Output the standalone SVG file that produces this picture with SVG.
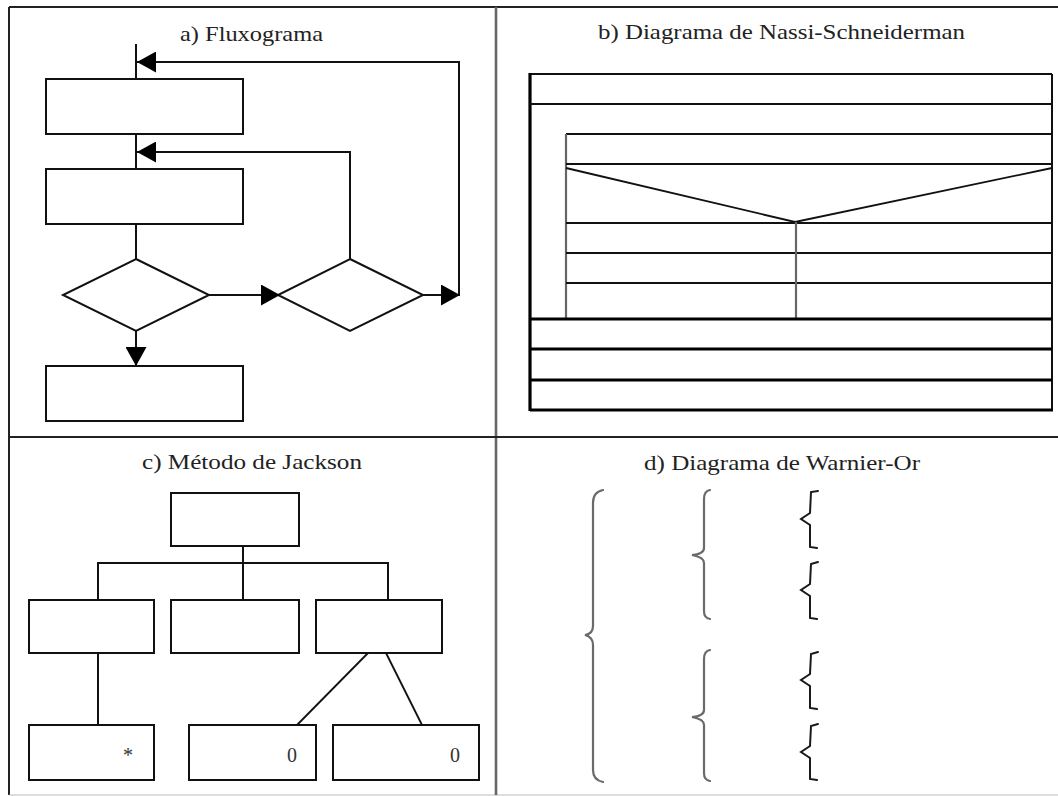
<svg xmlns="http://www.w3.org/2000/svg" width="1058" height="796" viewBox="0 0 1058 796">
<defs>
<style>
.title{font-family:"Liberation Serif","Times New Roman",serif;font-size:21px;fill:#222}
.lbl{font-family:"Liberation Serif","Times New Roman",serif;font-size:20px;fill:#333}
.box{fill:#fff;stroke:#111;stroke-width:2}
.ln{fill:none;stroke:#111;stroke-width:2}
.thin{fill:none;stroke:#111;stroke-width:1.8}
.thick{fill:none;stroke:#000;stroke-width:3.2}
.gray{fill:none;stroke:#666;stroke-width:2.2}
.brace{fill:none;stroke:#6a6a6a;stroke-width:2.2;stroke-linecap:round}
.sbrace{fill:none;stroke:#1a1a1a;stroke-width:2;stroke-linecap:round}
</style>
<marker id="ah" viewBox="0 0 19 21" refX="19" refY="10.5" markerWidth="19" markerHeight="21" markerUnits="userSpaceOnUse" orient="auto">
<path d="M0,0 L19,10.5 L0,21 z" fill="#000"/>
</marker>
</defs>
<rect width="1058" height="796" fill="#fff"/>

<g id="frame">
<line x1="9" y1="7" x2="1058" y2="7" stroke="#222" stroke-width="2"/>
<line x1="9" y1="7" x2="9" y2="795" stroke="#222" stroke-width="2"/>
<line x1="9" y1="795" x2="1058" y2="795" stroke="#bbb" stroke-width="1.2"/>
<line x1="496" y1="7" x2="496" y2="795" stroke="#666" stroke-width="2.6"/>
<line x1="9" y1="437" x2="1058" y2="437" stroke="#222" stroke-width="2"/>
</g>

<g id="titles">
<text class="title" x="180" y="41" textLength="143" lengthAdjust="spacingAndGlyphs">a) Fluxograma</text>
<text class="title" x="598" y="39" textLength="367" lengthAdjust="spacingAndGlyphs">b) Diagrama de Nassi-Schneiderman</text>
<text class="title" x="142" y="469" textLength="220" lengthAdjust="spacingAndGlyphs">c) Método de Jackson</text>
<text class="title" x="644" y="470" textLength="276" lengthAdjust="spacingAndGlyphs">d) Diagrama de Warnier-Or</text>
</g>

<!-- a) Fluxograma -->
<g id="a-box1"><rect class="box" x="46" y="79" width="197" height="55"/></g>
<g id="a-box2"><rect class="box" x="46" y="169" width="197" height="55"/></g>
<g id="a-dec1"><polygon class="box" points="136,259 209,295 136,331 63,295"/></g>
<g id="a-dec2"><polygon class="box" points="350,259 423,295 350,331 278,295"/></g>
<g id="a-box3"><rect class="box" x="46" y="366" width="197" height="55"/></g>
<g id="a-connectors">
<line class="ln" x1="136" y1="44" x2="136" y2="79"/>
<polyline class="ln" points="459,295 459,62 137,62" marker-end="url(#ah)"/>
<line class="ln" x1="136" y1="134" x2="136" y2="169"/>
<polyline class="ln" points="350,259 350,152 137,152" marker-end="url(#ah)"/>
<line class="ln" x1="136" y1="224" x2="136" y2="259"/>
<line class="ln" x1="209" y1="295" x2="280" y2="295" marker-end="url(#ah)"/>
<line class="ln" x1="423" y1="295" x2="460" y2="295" marker-end="url(#ah)"/>
<line class="ln" x1="136" y1="331" x2="136" y2="366" marker-end="url(#ah)"/>
</g>

<!-- b) Nassi-Schneiderman -->
<g id="b-ns">
<rect x="530" y="74" width="522" height="336" fill="#fff" stroke="none"/>
<line class="ln" x1="530" y1="74" x2="1052" y2="74"/>
<line class="ln" x1="1052" y1="74" x2="1052" y2="410"/>
<line class="thick" x1="530" y1="73" x2="530" y2="411"/>
<line class="ln" x1="530" y1="104" x2="1052" y2="104"/>
<line class="ln" x1="566" y1="134" x2="1052" y2="134"/>
<line class="gray" x1="566" y1="134" x2="566" y2="319"/>
<line class="ln" x1="566" y1="164" x2="1052" y2="164"/>
<polyline class="thin" points="566,168 795,222 1052,168"/>
<line class="thin" x1="566" y1="223" x2="1052" y2="223"/>
<line class="thin" x1="566" y1="253" x2="1052" y2="253"/>
<line class="thin" x1="566" y1="283" x2="1052" y2="283"/>
<line class="gray" x1="796" y1="222" x2="796" y2="319"/>
<line class="thick" x1="530" y1="319" x2="1052" y2="319"/>
<line class="thick" x1="530" y1="349" x2="1052" y2="349"/>
<line class="thick" x1="530" y1="380" x2="1052" y2="380"/>
<line class="thick" x1="530" y1="410" x2="1053" y2="410"/>
</g>

<!-- c) Jackson -->
<g id="c-top"><rect class="box" x="171" y="493" width="128" height="53"/></g>
<g id="c-l"><rect class="box" x="29" y="600" width="125" height="53"/></g>
<g id="c-m"><rect class="box" x="171" y="600" width="128" height="53"/></g>
<g id="c-r"><rect class="box" x="316" y="600" width="126" height="53"/></g>
<g id="c-b1"><rect class="box" x="29" y="725" width="125" height="55"/><text class="lbl" x="128" y="762" text-anchor="middle">*</text></g>
<g id="c-b2"><rect class="box" x="189" y="725" width="127" height="55"/><text class="lbl" x="292" y="762" text-anchor="middle">0</text></g>
<g id="c-b3"><rect class="box" x="333" y="725" width="146" height="55"/><text class="lbl" x="455" y="762" text-anchor="middle">0</text></g>
<g id="c-connectors">
<line class="ln" x1="243" y1="546" x2="243" y2="600"/>
<polyline class="ln" points="98,600 98,563 388,563 388,600"/>
<line class="ln" x1="98" y1="653" x2="98" y2="725"/>
<line class="thin" x1="368" y1="653" x2="297" y2="725"/>
<line class="thin" x1="386" y1="653" x2="422" y2="725"/>
</g>

<!-- d) Warnier-Orr -->
<g id="d-braces">
<path class="brace" d="M603,490 Q593,492 593,503 L593,626 Q593,634 585,635 Q593,637 593,645 L593,770 Q593,780 603,782"/>
<path class="brace" d="M710,490 Q704,491 704,499 L704,548 Q704,554 692,555 Q704,557 704,563 L704,611 Q704,618 710,619"/>
<path class="brace" d="M710,650 Q704,651 704,659 L704,710 Q704,716 692,717 Q704,719 704,725 L704,773 Q704,780 710,781"/>
<path class="sbrace" d="M818,491 L811,492 L810,513 L801,519 L810,525 L810,547 L817,548"/>
<path class="sbrace" d="M818,562 L811,564 L810,584 L801,590 L810,596 L810,618 L817,619"/>
<path class="sbrace" d="M818,652 L811,654 L810,674 L801,680 L810,686 L810,708 L817,709"/>
<path class="sbrace" d="M818,724 L811,726 L810,746 L801,752 L810,758 L810,779 L817,780"/>
</g>
</svg>
